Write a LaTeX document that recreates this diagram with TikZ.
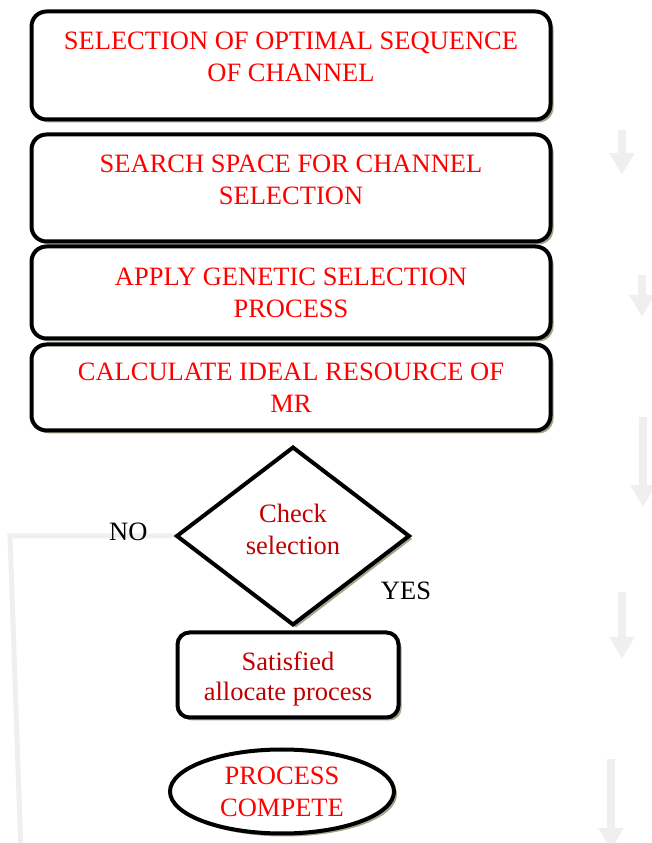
\documentclass[tikz,border=0pt]{standalone}
\usepackage{fontspec}
\setmainfont{Liberation Serif}
\usetikzlibrary{positioning,shapes.geometric,shadows,arrows.meta,backgrounds}

\definecolor{boxred}{RGB}{255,0,0}
\definecolor{darkred}{RGB}{192,0,0}
\definecolor{shadowolive}{RGB}{158,168,138}
\definecolor{fadegray}{RGB}{239,239,239}
\newcommand{\lowpad}[1]{\rule[-#1]{0pt}{#1}}

\begin{document}
\begin{tikzpicture}[x=1pt,y=1pt,
			font=\fontsize{26.5}{32}\selectfont,
			oliveshadow/.style={drop shadow={shadow xshift=3pt,shadow yshift=-3pt,fill=shadowolive,opacity=1}},
			block/.style={draw,line width=4pt,rounded corners=15pt,fill=white,text=boxred,
				align=center,inner sep=0pt,outer sep=0pt,minimum width=519pt,oliveshadow},
			decision/.style={diamond,draw,line width=4pt,fill=white,text=darkred,align=center,
				inner sep=0pt,outer sep=0pt,minimum width=232pt,minimum height=177pt,oliveshadow},
			terminal/.style={ellipse,draw,line width=4pt,fill=white,text=boxred,align=center,
				inner sep=0pt,outer sep=0pt,minimum width=224pt,minimum height=84pt,oliveshadow},
			noline/.style={draw=fadegray,line width=5pt},
			fadearrow/.style={draw=fadegray,line width=8pt,-{Triangle[width=24pt,length=22pt]}}]
			\useasboundingbox (0,0) rectangle (652,843);
			\node[block,minimum height=108pt] (sel) at (291,777.5) {SELECTION OF OPTIMAL SEQUENCE\\OF CHANNEL\lowpad{17pt}};
			\node[block,minimum height=107pt] (srch) [below=15pt of sel] {SEARCH SPACE FOR CHANNEL\\SELECTION\lowpad{17pt}};
			\node[block,minimum height=92pt] (gen) [below=5pt of srch] {APPLY GENETIC SELECTION\\PROCESS};
			\node[block,minimum height=86pt] (calc) [below=6pt of gen] {CALCULATE IDEAL RESOURCE OF\\MR};
			\node[decision] (chk) [below=17pt of calc,xshift=2pt] {Check\\selection\lowpad{14pt}};
			\node[block,text=darkred,minimum width=221pt,minimum height=85pt,rounded corners=12pt] (sat)
				[below=8pt of chk,xshift=-5pt] {\rule{0pt}{26pt}Satisfied\\[-2pt]allocate process};
			\node[terminal] (done) [below=32pt of sat,xshift=-6pt] {PROCESS\\COMPETE};
			\node (no) [left=26pt of chk.west,yshift=4pt] {NO};
			\node (yes) [below=42pt of chk.east,xshift=-3pt] {YES};
			\begin{scope}[on background layer]
				\coordinate (nobend) at (10,307);
				\coordinate (noend) at (21,-10);
				\draw[noline] (chk.west) -- (nobend) -- (noend);
				\draw[fadearrow] (622,713) -- (622,668);
				\draw[fadearrow] (642,568) -- (642,526);
				\draw[fadearrow] (643,426) -- (643,336);
				\draw[fadearrow] (622,251) -- (622,184);
				\draw[fadearrow] (611,84) -- (611,-7);
			\end{scope}
		\end{tikzpicture}
\end{document}
